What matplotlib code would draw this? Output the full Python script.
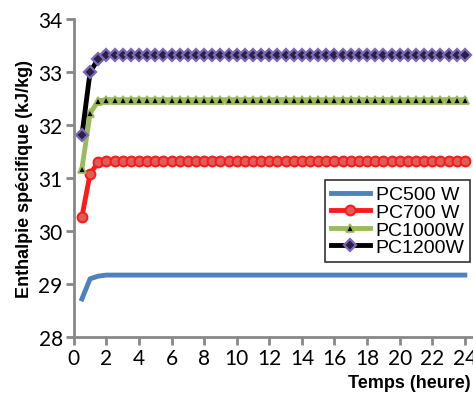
import numpy as np
import matplotlib.pyplot as plt

# Time points (hours), every half hour
temps = np.arange(1, 49) * 0.5

# Specific enthalpy (kJ/kg)
pc500_start = [28.72, 29.10, 29.15]
pc700_start = [30.27, 31.08, 31.30]
pc1000_start = [31.18, 32.22, 32.46]
pc1200_start = [31.81, 33.00, 33.25]
pc500_plateau = 29.17
pc700_plateau = 31.32
pc1000_plateau = 32.48
pc1200_plateau = 33.32

n_rest = len(temps) - 3
pc500 = pc500_start + [pc500_plateau] * n_rest
pc700 = pc700_start + [pc700_plateau] * n_rest
pc1000 = pc1000_start + [pc1000_plateau] * n_rest
pc1200 = pc1200_start + [pc1200_plateau] * n_rest

labels = ["PC500 W", "PC700 W", "PC1000W", "PC1200W"]
xticks = list(range(0, 25, 2))
yticks = list(range(28, 35))

fig = plt.figure(figsize=(4.73, 4.02), dpi=100)
ax = fig.add_axes([0.156, 0.159, 0.844, 0.791])

ax.plot(temps, pc500, color="#4f81bd", lw=3.5, label=labels[0])
ax.plot(temps, pc700, color="#ff1a1a", lw=3.5, marker="o", ms=7,
        mfc="#d9605a", mec="#ff1a1a", mew=1.5, label=labels[1])
ax.plot(temps, pc1000, color="#9bbb59", lw=3.5, marker="^", ms=6,
        mfc="black", mec="#9bbb59", mew=1.3, label=labels[2])
ax.plot(temps, pc1200, color="black", lw=3.5, marker="D", ms=6,
        mfc="#2a1f45", mec="#7b68b8", mew=1.6, label=labels[3])

ax.set_xlim(0, 24.5)
ax.set_ylim(28, 34)
ax.set_xticks(xticks)
ax.set_yticks(yticks)

for s in ["top", "right"]:
    ax.spines[s].set_visible(False)
for s in ["left", "bottom"]:
    ax.spines[s].set_color("#888888")
    ax.spines[s].set_linewidth(2)
ax.tick_params(direction="out", length=6, width=2, color="#888888",
               labelsize=15, pad=2)
for lab in ax.get_xticklabels() + ax.get_yticklabels():
    lab.set_family("Lato")

ax.set_ylabel("Enthalpie spécifique (kJ/kg)", fontsize=13, fontweight="bold",
              family="Liberation Sans", labelpad=4)
fig.text(0.995, 0.025, "Temps (heure)", fontsize=13, fontweight="bold",
         family="Liberation Sans", ha="right", va="bottom")

leg = ax.legend(loc="upper left", bbox_to_anchor=(0.605, 0.525), frameon=True,
                fancybox=False, edgecolor="black", handlelength=2.0,
                handletextpad=0.3, labelspacing=0.0, borderpad=0.3,
                prop={"family": "Liberation Sans", "size": 14})
leg.get_frame().set_linewidth(1.2)

plt.savefig("out.png")
